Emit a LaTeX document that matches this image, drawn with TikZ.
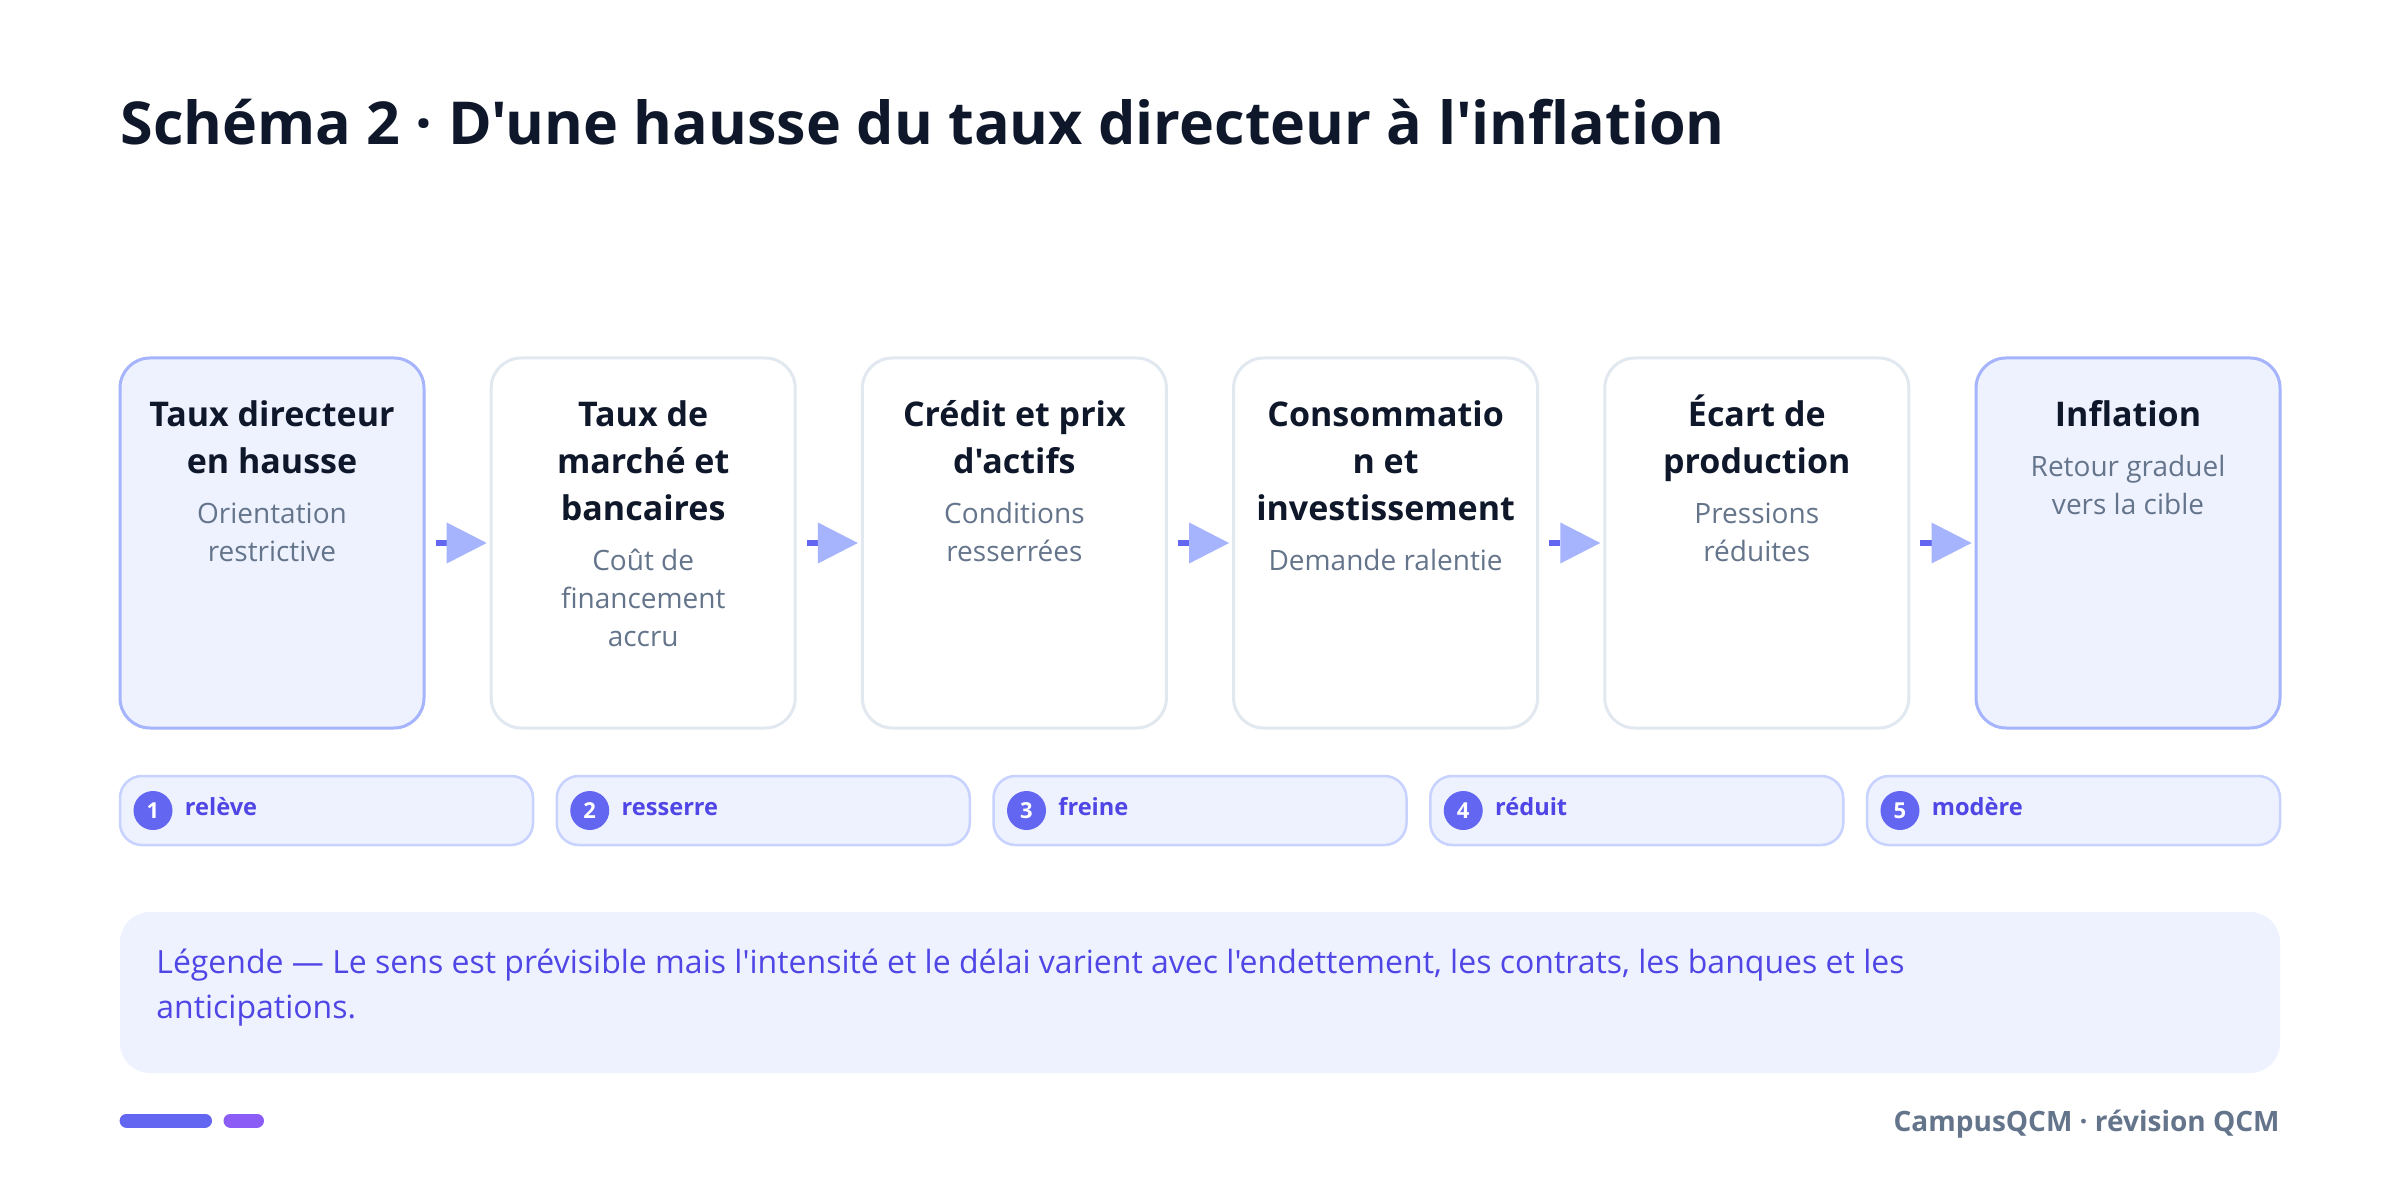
\documentclass[tikz,border=0pt]{standalone}
\usepackage{fontspec}
\setmainfont{Open Sans}[BoldFont={Open Sans Bold}, Ligatures=TeXOff]
\usetikzlibrary{arrows.meta,calc}
\definecolor{navy}{HTML}{0F172A}
\definecolor{slate}{HTML}{64748B}
\definecolor{ind}{HTML}{6366F1}
\definecolor{indtext}{HTML}{4F46E5}
\definecolor{tipc}{HTML}{A5B4FC}
\definecolor{hlfill}{HTML}{EEF2FF}
\definecolor{hlborder}{HTML}{A5B4FC}
\definecolor{bordgray}{HTML}{E2E8F0}
\definecolor{pillb}{HTML}{C7D2FE}
\definecolor{violet}{HTML}{8B5CF6}
\newcommand{\tstrut}{\rule{0pt}{1em}}
\begin{document}
\begin{tikzpicture}[x=0.5pt,y=-0.5pt,
 mainbox/.style={draw=bordgray, fill=white, line width=1.5pt, rounded corners=15pt, minimum width=152pt, minimum height=185pt, inner sep=0pt},
 hlbox/.style={mainbox, draw=hlborder, fill=hlfill},
 btitle/.style={anchor=north, inner sep=0pt, align=center, text=navy, font=\fontsize{17}{23.5}\selectfont\bfseries},
 bsub/.style={anchor=north, inner sep=0pt, align=center, text=slate, font=\fontsize{14}{19}\selectfont},
 flow/.style={line width=3pt, draw=ind, -{Triangle[length=20pt,width=20.5pt,line width=0pt,color=tipc,fill=tipc]}},
 pill/.style={draw=pillb, fill=hlfill, line width=1.25pt, rounded corners=11pt, minimum width=206.5pt, minimum height=34.5pt, inner sep=0pt},
 num/.style={circle, fill=ind, text=white, minimum size=19.5pt, inner sep=0pt, font=\fontsize{11}{12}\selectfont\bfseries},
 plabel/.style={anchor=base west, inner sep=0pt, text=indtext, font=\fontsize{11.8}{14}\selectfont\bfseries},
 legendbox/.style={fill=hlfill, rounded corners=15pt, minimum width=1080pt, minimum height=80.5pt, inner sep=0pt},
 legendtext/.style={anchor=north west, inner sep=0pt, align=left, text=indtext, font=\fontsize{16}{22.5}\selectfont},
 bar/.style={line width=7pt, line cap=round}
]
\useasboundingbox[fill=white] (0,0) rectangle (2400,1182);

% title
\node[anchor=base west, inner sep=0pt, text=navy, font=\fontsize{29.6}{34}\selectfont\bfseries] (title) at (120,145) {Schéma 2 · D'une hausse du taux directeur à l'inflation};

% boxes
\node[hlbox]   (b1) at (272,543) {};
\node[mainbox] (b2) at (643.2,543) {};
\node[mainbox] (b3) at (1014.4,543) {};
\node[mainbox] (b4) at (1385.6,543) {};
\node[mainbox] (b5) at (1756.8,543) {};
\node[hlbox]   (b6) at (2128,543) {};

\node[btitle] (t1) at (272,392) {\tstrut Taux directeur\\en hausse};
\node[bsub]   (s1) at (272,495) {\tstrut Orientation\\restrictive};
\node[btitle] (t2) at (643.2,392) {\tstrut Taux de\\marché et\\bancaires};
\node[bsub]   (s2) at (643.2,542) {\tstrut Coût de\\financement\\accru};
\node[btitle] (t3) at (1014.4,392) {\tstrut Crédit et prix\\d'actifs};
\node[bsub]   (s3) at (1014.4,495) {\tstrut Conditions\\resserrées};
\node[btitle] (t4) at (1385.6,392) {\tstrut Consommatio\\n et\\investissement};
\node[bsub]   (s4) at (1385.6,542) {\tstrut Demande ralentie};
\node[btitle] (t5) at (1756.8,392) {\tstrut Écart de\\production};
\node[bsub]   (s5) at (1756.8,495) {\tstrut Pressions\\réduites};
\node[btitle] (t6) at (2128,392) {\tstrut Inflation};
\node[bsub]   (s6) at (2128,448) {\tstrut Retour graduel\\vers la cible};

% arrows
\draw[flow] ($(b1.east)+(10,0)$) -- ($(b2.west)+(-3,0)$);
\draw[flow] ($(b2.east)+(10,0)$) -- ($(b3.west)+(-3,0)$);
\draw[flow] ($(b3.east)+(10,0)$) -- ($(b4.west)+(-3,0)$);
\draw[flow] ($(b4.east)+(10,0)$) -- ($(b5.west)+(-3,0)$);
\draw[flow] ($(b5.east)+(10,0)$) -- ($(b6.west)+(-3,0)$);

% pills
\node[pill] (p1) at (326.5,810.5) {};
\node[pill] (p2) at (763.25,810.5) {};
\node[pill] (p3) at (1200,810.5) {};
\node[pill] (p4) at (1636.75,810.5) {};
\node[pill] (p5) at (2073.5,810.5) {};
\node[num] (n1) at (153,810.5) {1};
\node[num] (n2) at (589.75,810.5) {2};
\node[num] (n3) at (1026.5,810.5) {3};
\node[num] (n4) at (1463.25,810.5) {4};
\node[num] (n5) at (1900,810.5) {5};
\node[plabel] (l1) at (184.5,815) {relève};
\node[plabel] (l2) at (621.25,815) {resserre};
\node[plabel] (l3) at (1058,815) {freine};
\node[plabel] (l4) at (1494.75,815) {réduit};
\node[plabel] (l5) at (1931.5,815) {modère};

% legend
\node[legendbox] (leg) at (1200,992.5) {};
\node[legendtext] (legt) at (156,941) {\tstrut Légende — Le sens est prévisible mais l'intensité et le délai varient avec l'endettement, les contrats, les banques et les\\anticipations.};

% footer
\draw[bar, ind] (126.6,1120.5) -- (205,1120.5);
\draw[bar, violet] (230.5,1120.5) -- (257,1120.5);
\node[anchor=base east, inner sep=0pt, text=slate, font=\fontsize{14}{17}\selectfont\bfseries] (foot) at (2280,1131) {CampusQCM · révision QCM};
\end{tikzpicture}
\end{document}
